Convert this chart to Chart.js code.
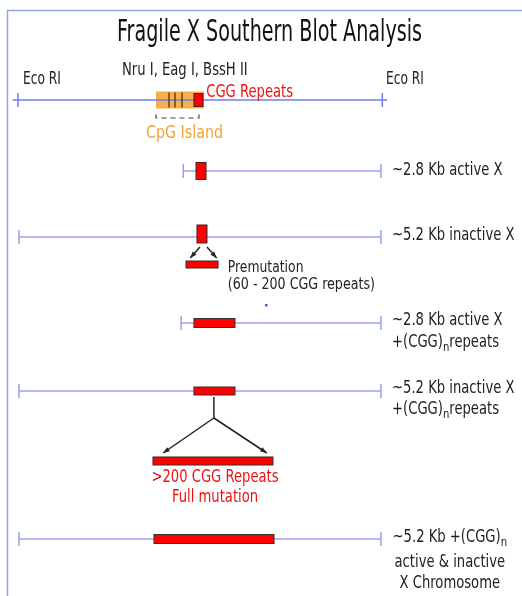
<!DOCTYPE html>
<html>
<head>
<meta charset="utf-8">
<script src="https://cdn.jsdelivr.net/npm/chart.js@4.4.1/dist/chart.umd.min.js"></script>
<style>
  html, body { margin: 0; padding: 0; background: #fff; }
  #wrap { width: 522px; height: 596px; }
</style>
</head>
<body>
<div id="wrap"><canvas id="grafico" width="522" height="596"></canvas></div>
<script>
// ========== Dados ==========
// posicao horizontal em kb, medida a partir do Eco RI da esquerda
const ecoRiEsq = 0;
const ecoRiDir = 5.2;

// fragmentos (linhas azuis): inicio e fim em kb
const fragInicio = [-0.09, 2.36, 0, 2.33, 0, 0];
const fragFim = [5.29, 5.2, 5.2, 5.2, 5.2, 5.2];
const marcaInicio = [-0.014, 2.36, 0, 2.33, 0, 0];
const marcaFim = [5.22, 5.2, 5.2, 5.2, 5.2, 5.2];

// repeticoes CGG (caixas vermelhas) em cada linha, inicio e fim em kb
const cggInicio = [2.514, 2.543, 2.557, 2.514, 2.514, 1.94];
const cggFim = [2.644, 2.687, 2.701, 3.103, 3.103, 3.664];

// ilha CpG e sitios de restricao (Nru I, Eag I, BssH II)
const cpgInicio = 1.968;
const cpgFim = 2.658;
const sitios = [2.155, 2.241, 2.342];

// barras de expansao (premutacao e mutacao completa)
const premutInicio = 2.40, premutFim = 2.86;
const fullInicio = 1.925, fullFim = 3.649;

const rotulosLinha = [
  [],
  ['~2.8 Kb active X'],
  ['~5.2 Kb inactive X'],
  ['~2.8 Kb active X', '+(CGG)_nrepeats'],
  ['~5.2 Kb inactive X', '+(CGG)_nrepeats'],
  ['~5.2 Kb +(CGG)_n', 'active & inactive', 'X Chromosome']
];

// ========== Layout ==========
const linhaY = [100, 171, 237, 323, 391, 539];
const alturaCgg = [13, 17, 18, 9, 8, 9];
const FONTE = "'Liberation Sans Narrow', 'DejaVu Sans Condensed', sans-serif";
const AZUL = '#9a9ff2';
const AZUL_TOPO = '#6f7cee';
const VERMELHO = '#ff0000';
const LARANJA = '#f8b04c';

// conversao: 69.6 px por kb, Eco RI esquerdo em x=19
const xMin = -19 / 69.6;
const xMax = (522 - 19) / 69.6;

function textoRico(ctx, texto, x, y, tam, cor, alinh, aperto) {
  aperto = aperto || 0.86;
  const partes = texto.split(/(_n)/).filter(p => p !== '');
  const fN = `${tam}px ${FONTE}`;
  const fS = `${Math.round(tam * 0.75)}px ${FONTE}`;
  let w = 0;
  partes.forEach(p => {
    ctx.font = p === '_n' ? fS : fN;
    w += ctx.measureText(p === '_n' ? 'n' : p).width;
  });
  w *= aperto;
  let x0 = x;
  if (alinh === 'center') x0 = x - w / 2;
  if (alinh === 'right') x0 = x - w;
  ctx.save();
  ctx.fillStyle = cor;
  ctx.textBaseline = 'middle';
  ctx.textAlign = 'left';
  ctx.translate(x0, y);
  ctx.scale(aperto, 1);
  let cx = 0;
  partes.forEach(p => {
    if (p === '_n') {
      ctx.font = fS;
      ctx.fillText('n', cx, tam * 0.3);
      cx += ctx.measureText('n').width;
    } else {
      ctx.font = fN;
      ctx.fillText(p, cx, 0);
      cx += ctx.measureText(p).width;
    }
  });
  ctx.restore();
}

function seta(ctx, x1, y1, x2, y2, ponta) {
  ctx.beginPath();
  ctx.moveTo(x1, y1);
  ctx.lineTo(x2, y2);
  ctx.stroke();
  if (!ponta) return;
  const ang = Math.atan2(y2 - y1, x2 - x1);
  const s = 7;
  ctx.beginPath();
  ctx.moveTo(x2, y2);
  ctx.lineTo(x2 - s * Math.cos(ang - 0.35), y2 - s * Math.sin(ang - 0.35));
  ctx.lineTo(x2 - s * Math.cos(ang + 0.35), y2 - s * Math.sin(ang + 0.35));
  ctx.closePath();
  ctx.fill();
}

function caixa(ctx, x0, x1, y0, y1, cor) {
  ctx.fillStyle = cor;
  ctx.fillRect(x0, y0, x1 - x0, y1 - y0);
  ctx.strokeStyle = '#3a2a2a';
  ctx.lineWidth = 1;
  ctx.strokeRect(x0, y0, x1 - x0, y1 - y0);
}

// ========== Plugin de desenho ==========
const desenhoPlugin = {
  id: 'desenho',
  beforeDatasetsDraw(chart) {
    const ctx = chart.ctx;
    const sx = chart.scales.x, sy = chart.scales.y;
    // moldura
    ctx.save();
    ctx.strokeStyle = '#8ea4ea';
    ctx.lineWidth = 1.5;
    ctx.beginPath();
    ctx.moveTo(7.5, 596);
    ctx.lineTo(7.5, 10.5);
    ctx.lineTo(522, 10.5);
    ctx.stroke();
    // ilha CpG
    const yc = sy.getPixelForValue(linhaY[0]);
    ctx.fillStyle = LARANJA;
    ctx.fillRect(sx.getPixelForValue(cpgInicio), yc - 8.5, sx.getPixelForValue(cpgFim) - sx.getPixelForValue(cpgInicio), 17);
    ctx.restore();
  },
  afterDatasetsDraw(chart) {
    const ctx = chart.ctx;
    const sx = chart.scales.x, sy = chart.scales.y;
    const px = v => sx.getPixelForValue(v);
    const py = v => sy.getPixelForValue(v);
    ctx.save();

    // sitios de restricao
    ctx.strokeStyle = '#3b2d1c';
    ctx.lineWidth = 1.2;
    sitios.forEach(s => {
      ctx.beginPath();
      ctx.moveTo(px(s), py(linhaY[0]) - 7.5);
      ctx.lineTo(px(s), py(linhaY[0]) + 7.5);
      ctx.stroke();
    });

    // colchete tracejado da ilha CpG
    ctx.strokeStyle = '#444';
    ctx.lineWidth = 1.2;
    ctx.setLineDash([5, 4]);
    ctx.beginPath();
    ctx.moveTo(px(cpgInicio), py(linhaY[0]) + 14.5);
    ctx.lineTo(px(cpgInicio), py(linhaY[0]) + 18);
    ctx.lineTo(px(2.586), py(linhaY[0]) + 18);
    ctx.lineTo(px(2.586), py(linhaY[0]) + 14.5);
    ctx.stroke();
    ctx.setLineDash([]);

    // caixas CGG
    cggInicio.forEach((ini, i) => {
      const h = alturaCgg[i];
      const y = py(linhaY[i]);
      const off = i === 2 ? -3 : 0;
      caixa(ctx, px(ini), px(cggFim[i]), y - h / 2 + off, y + h / 2 + off, VERMELHO);
    });

    // premutacao
    const yPre = py(linhaY[2]);
    ctx.strokeStyle = '#222';
    ctx.fillStyle = '#222';
    ctx.lineWidth = 1.5;
    seta(ctx, px(2.60), yPre + 10, px(2.46), yPre + 21, true);
    seta(ctx, px(2.70), yPre + 10, px(2.84), yPre + 21, true);
    caixa(ctx, px(premutInicio), px(premutFim), yPre + 24, yPre + 31, VERMELHO);

    // mutacao completa
    const yFull = py(linhaY[4]);
    ctx.strokeStyle = '#222';
    ctx.fillStyle = '#222';
    ctx.lineWidth = 1.5;
    seta(ctx, px(2.80), yFull + 6, px(2.80), yFull + 27, false);
    seta(ctx, px(2.80), yFull + 27, px(2.07), yFull + 62, true);
    seta(ctx, px(2.80), yFull + 27, px(3.56), yFull + 62, true);
    caixa(ctx, px(fullInicio), px(fullFim), yFull + 66, yFull + 74, VERMELHO);

    // ponto azul solto
    ctx.fillStyle = '#3b5bff';
    ctx.fillRect(px(3.549) - 1, py(305) - 1, 2.5, 2.5);

    // textos
    textoRico(ctx, 'Fragile X Southern Blot Analysis', px(3.60), py(33), 30, '#111', 'center', 0.71);
    textoRico(ctx, 'Eco RI', px(0.057), py(80), 17, '#222', 'left', 0.8);
    textoRico(ctx, 'Eco RI', px(5.273), py(80), 17, '#222', 'left', 0.8);
    textoRico(ctx, 'Nru I, Eag I, BssH II', px(1.48), py(71), 17, '#222', 'left');
    textoRico(ctx, 'CGG Repeats', px(2.69), py(93), 17, '#ee1111', 'left');
    textoRico(ctx, 'CpG Island', px(1.825), py(133), 18, '#f5a030', 'left', 0.88);
    textoRico(ctx, 'Premutation', px(3.0), py(268), 16, '#222', 'left');
    textoRico(ctx, '(60 - 200 CGG repeats)', px(3.0), py(285), 16, '#222', 'left', 0.88);
    textoRico(ctx, '>200 CGG Repeats', px(2.816), py(478), 17, '#ee1111', 'center');
    textoRico(ctx, 'Full mutation', px(2.816), py(498), 17, '#ee1111', 'center');

    const dy = [[], [0], [-1], [-2, 20], [-2, 19], [-1, 24, 45]];
    rotulosLinha.forEach((ls, i) => {
      ls.forEach((t, j) => {
        if (i === 5) textoRico(ctx, t, px(6.19), py(linhaY[i] + dy[i][j]), 17, '#222', 'center');
        else textoRico(ctx, t, px(5.36), py(linhaY[i] + dy[i][j]), 17, '#222', 'left');
      });
    });
    ctx.restore();
  }
};

// ========== Datasets das linhas ==========
const datasets = linhaY.map((y, i) => ({
  type: 'line',
  data: [
    { x: fragInicio[i], y: y },
    { x: marcaInicio[i], y: y },
    { x: marcaFim[i], y: y },
    { x: fragFim[i], y: y }
  ],
  borderColor: i === 0 ? AZUL_TOPO : AZUL,
  borderWidth: 1.5,
  pointStyle: 'line',
  rotation: 90,
  pointRadius: [0, 7, 7, 0],
  pointBorderColor: i === 0 ? AZUL_TOPO : AZUL,
  pointBorderWidth: 1.5,
  fill: false,
  tension: 0
}));

new Chart(document.getElementById('grafico'), {
  type: 'scatter',
  data: { datasets: datasets },
  options: {
    responsive: false,
    animation: false,
    devicePixelRatio: 1,
    layout: { padding: 0 },
    events: [],
    plugins: { legend: { display: false }, tooltip: { enabled: false } },
    scales: {
      x: { type: 'linear', display: false, min: xMin, max: xMax },
      y: { type: 'linear', display: false, min: 0, max: 596, reverse: true }
    }
  },
  plugins: [desenhoPlugin]
});
</script>
</body>
</html>
